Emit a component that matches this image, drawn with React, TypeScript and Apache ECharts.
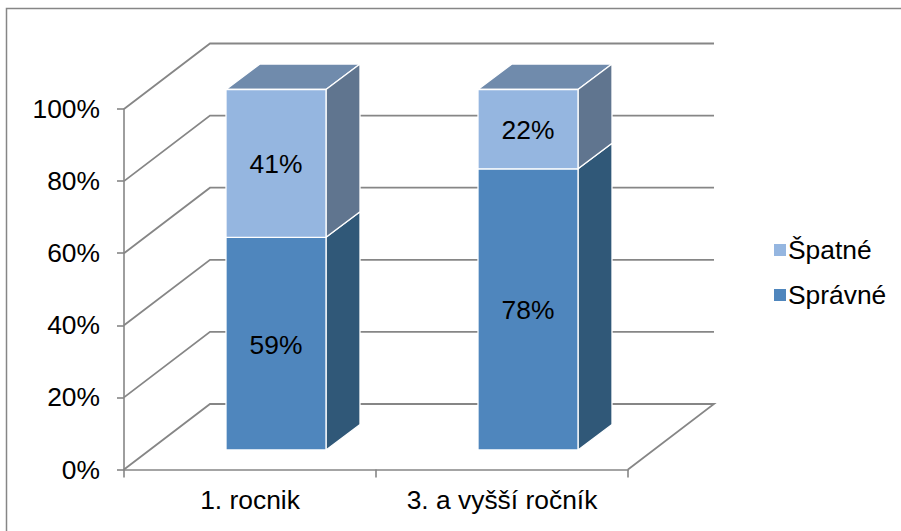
import React, { useEffect, useRef } from "react";
import * as echarts from "echarts";

const categories = ["1. rocnik", "3. a vyšší ročník"];
const correct = [59, 78];
const wrong = [41, 22];
const yTicks = [0, 20, 40, 60, 80, 100];

const FONT = '"Liberation Sans", Arial, sans-serif';
const FONT_SIZE = 26.4;
const LINE = "#868686";

// Oblique projection of the floor: how far the back wall and the bars sit from the front plane.
const WALL_DX = 86;
const WALL_DY = -65.5;
const BAR_DX = 26;
const BAR_DY = -19.5;
const SIDE_DX = 34;
const SIDE_DY = -25.5;
const BAR_WIDTH = 100;

type Faces = { front: string; side: string; top: string };

const lowerFaces: Faces = { front: "#4F86BD", side: "#305878", top: "#3F6E9C" };
const upperFaces: Faces = { front: "#95B6E0", side: "#60758F", top: "#708BAC" };

function stackRows(values: number[], bases: number[]) {
  return values.map((v, i) => [i, bases[i], bases[i] + v]);
}

function barRenderer(faces: Faces) {
  return (_params: any, api: any) => {
    const cat = api.value(0);
    const lo = api.coord([cat, api.value(1)]);
    const hi = api.coord([cat, api.value(2)]);
    const xl = lo[0] + BAR_DX - BAR_WIDTH / 2;
    const xr = xl + BAR_WIDTH;
    const yb = lo[1] + BAR_DY;
    const yt = hi[1] + BAR_DY;
    const edge = { stroke: "#ffffff", lineWidth: 1.3, lineJoin: "round" };
    const poly = (points: number[][], fill: string) => ({
      type: "polygon",
      shape: { points },
      style: { fill, ...edge },
    });
    return {
      type: "group",
      children: [
        poly([[xl, yt], [xr, yt], [xr + SIDE_DX, yt + SIDE_DY], [xl + SIDE_DX, yt + SIDE_DY]], faces.top),
        poly([[xr, yb], [xr, yt], [xr + SIDE_DX, yt + SIDE_DY], [xr + SIDE_DX, yb + SIDE_DY]], faces.side),
        poly([[xl, yb], [xr, yb], [xr, yt], [xl, yt]], faces.front),
        {
          type: "text",
          style: {
            text: `${api.value(2) - api.value(1)}%`,
            x: (xl + xr) / 2,
            y: (yb + yt) / 2 + 1,
            align: "center",
            verticalAlign: "middle",
            fill: "#000000",
            font: `${FONT_SIZE}px ${FONT}`,
          },
        },
      ],
    };
  };
}

function wallRenderer(params: any, api: any) {
  const v = api.value(1);
  const { x, width } = params.coordSys;
  const y = api.coord([0, v])[1];
  const back = y + WALL_DY;
  const points =
    v === 0
      ? [[x, y], [x + WALL_DX, back], [x + width + WALL_DX, back], [x + width, y]]
      : [[x, y], [x + WALL_DX, back], [x + width + WALL_DX, back]];
  return {
    type: "polyline",
    shape: { points },
    style: { fill: "none", stroke: LINE, lineWidth: 1.8 },
  };
}

export default function App() {
  const ref = useRef<HTMLDivElement>(null);

  useEffect(() => {
    const chart = echarts.init(ref.current!, undefined, { renderer: "svg" });
    const axisStroke = { color: LINE, width: 1.6 };
    chart.setOption({
      animation: false,
      backgroundColor: "#ffffff",
      textStyle: { fontFamily: FONT },
      grid: { left: 124, top: 109, width: 504, height: 360.5 },
      graphic: [
        {
          type: "polyline",
          silent: true,
          shape: { points: [[6.5, 531], [6.5, 8.5], [901, 8.5]] },
          style: { fill: "none", stroke: LINE, lineWidth: 1.5 },
        },
      ],
      legend: {
        orient: "vertical",
        left: 769,
        top: 232,
        itemWidth: 12,
        itemHeight: 12,
        itemGap: 19,
        icon: "rect",
        data: ["Špatné", "Správné"],
        textStyle: { fontFamily: FONT, fontSize: FONT_SIZE, color: "#000000", padding: [0, 0, 0, -3] },
      },
      xAxis: {
        type: "category",
        data: categories,
        boundaryGap: true,
        axisLine: { lineStyle: axisStroke },
        axisTick: { show: true, length: 8, lineStyle: axisStroke },
        axisLabel: { fontFamily: FONT, fontSize: FONT_SIZE, color: "#000000", margin: 17, interval: 0 },
      },
      yAxis: {
        type: "value",
        min: 0,
        max: 100,
        interval: 20,
        splitLine: { show: false },
        axisLine: { show: true, lineStyle: axisStroke },
        axisTick: { show: true, length: 7, lineStyle: axisStroke },
        axisLabel: {
          formatter: "{value}%",
          fontFamily: FONT,
          fontSize: FONT_SIZE,
          color: "#000000",
          margin: 24,
          padding: [2, 0, 0, 0],
        },
      },
      series: [
        {
          type: "custom",
          name: "walls",
          silent: true,
          clip: false,
          z: 1,
          renderItem: wallRenderer,
          encode: { x: 0, y: 1 },
          data: yTicks.map((v) => [0, v]),
        },
        {
          type: "custom",
          name: "Správné",
          clip: false,
          z: 2,
          itemStyle: { color: lowerFaces.front },
          renderItem: barRenderer(lowerFaces),
          encode: { x: 0, y: [1, 2] },
          data: stackRows(correct, correct.map(() => 0)),
        },
        {
          type: "custom",
          name: "Špatné",
          clip: false,
          z: 3,
          itemStyle: { color: upperFaces.front },
          renderItem: barRenderer(upperFaces),
          encode: { x: 0, y: [1, 2] },
          data: stackRows(wrong, correct),
        },
      ],
    });
    return () => chart.dispose();
  }, []);

  return <div ref={ref} style={{ position: "fixed", left: 0, top: 0, width: 901, height: 531 }} />;
}
